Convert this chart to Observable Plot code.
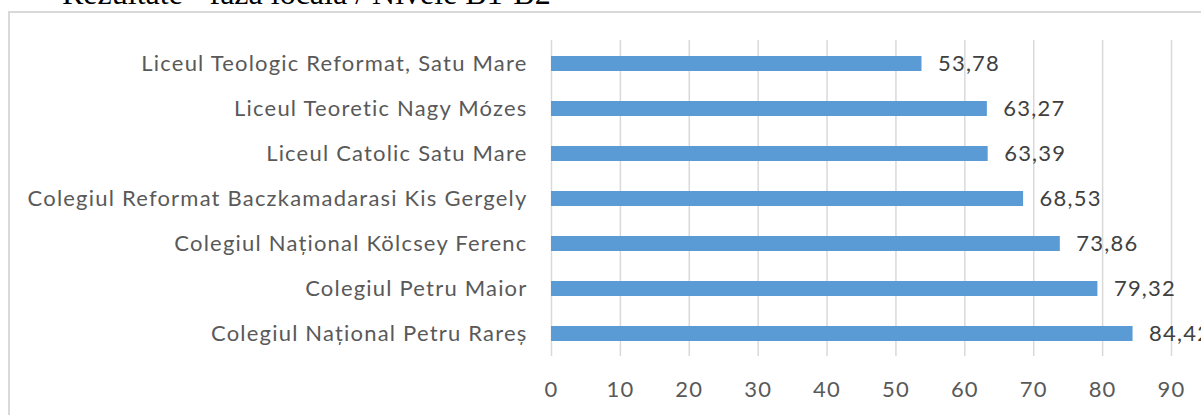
<!DOCTYPE html>
<html>
<head>
<meta charset="utf-8">
<script src="https://cdn.jsdelivr.net/npm/d3@7"></script>
<script src="https://cdn.jsdelivr.net/npm/@observablehq/plot@0.6"></script>
<style>
  html, body { margin: 0; padding: 0; background: #fff; overflow: hidden; }
  body { width: 1201px; height: 415px; position: relative; }
  #title { position: absolute; left: 62px; top: -23px; font-family: "Liberation Serif", "Times New Roman", serif; font-size: 32px; line-height: 32px; color: #000; white-space: nowrap; }
  #frame { position: absolute; left: 8px; top: 11px; width: 1300px; height: 500px; border-top: 2px solid #d9d9d9; border-left: 2px solid #d9d9d9; }
  #chart { position: absolute; left: 0; top: 0; }
  #chart svg text { letter-spacing: 1.2px; }
</style>
</head>
<body>
<div id="title">Rezultate - faza locală / Nivele B1-B2</div>
<div id="frame"></div>
<div id="chart"></div>
<script>
const schools = [
  "Liceul Teologic Reformat, Satu Mare",
  "Liceul Teoretic Nagy Mózes",
  "Liceul Catolic Satu Mare",
  "Colegiul Reformat Baczkamadarasi Kis Gergely",
  "Colegiul Național Kölcsey Ferenc",
  "Colegiul Petru Maior",
  "Colegiul Național Petru Rareș"
];
const scores = [53.78, 63.27, 63.39, 68.53, 73.86, 79.32, 84.42];
const xTicks = [0, 10, 20, 30, 40, 50, 60, 70, 80, 90];

const data = schools.map((s, i) => ({school: s, score: scores[i]}));
const fmt = v => v.toFixed(2).replace(".", ",");

const chart = Plot.plot({
  width: 1201,
  height: 415,
  marginLeft: 551,
  marginRight: 30,
  marginTop: 40,
  marginBottom: 59,
  style: {fontFamily: "Lato, sans-serif", background: "transparent"},
  x: {domain: [0, 90], ticks: xTicks},
  y: {domain: schools, paddingInner: 0.667, paddingOuter: 0.333},
  marks: [
    Plot.gridX(xTicks, {stroke: "#d9d9d9", strokeOpacity: 1, strokeWidth: 1.5}),
    Plot.barX(data, {x: "score", y: "school", fill: "#5b9bd5"}),
    Plot.text(data, {x: "score", y: "school", text: d => fmt(d.score), dx: 16, textAnchor: "start", fill: "#404040", fontSize: 22}),
    Plot.axisY({tickSize: 0, tickPadding: 24, fontSize: 22, color: "#595959", label: null}),
    Plot.axisX({ticks: xTicks, tickSize: 0, tickPadding: 25, fontSize: 22, color: "#595959", label: null})
  ]
});
document.getElementById("chart").appendChild(chart);
</script>
</body>
</html>
